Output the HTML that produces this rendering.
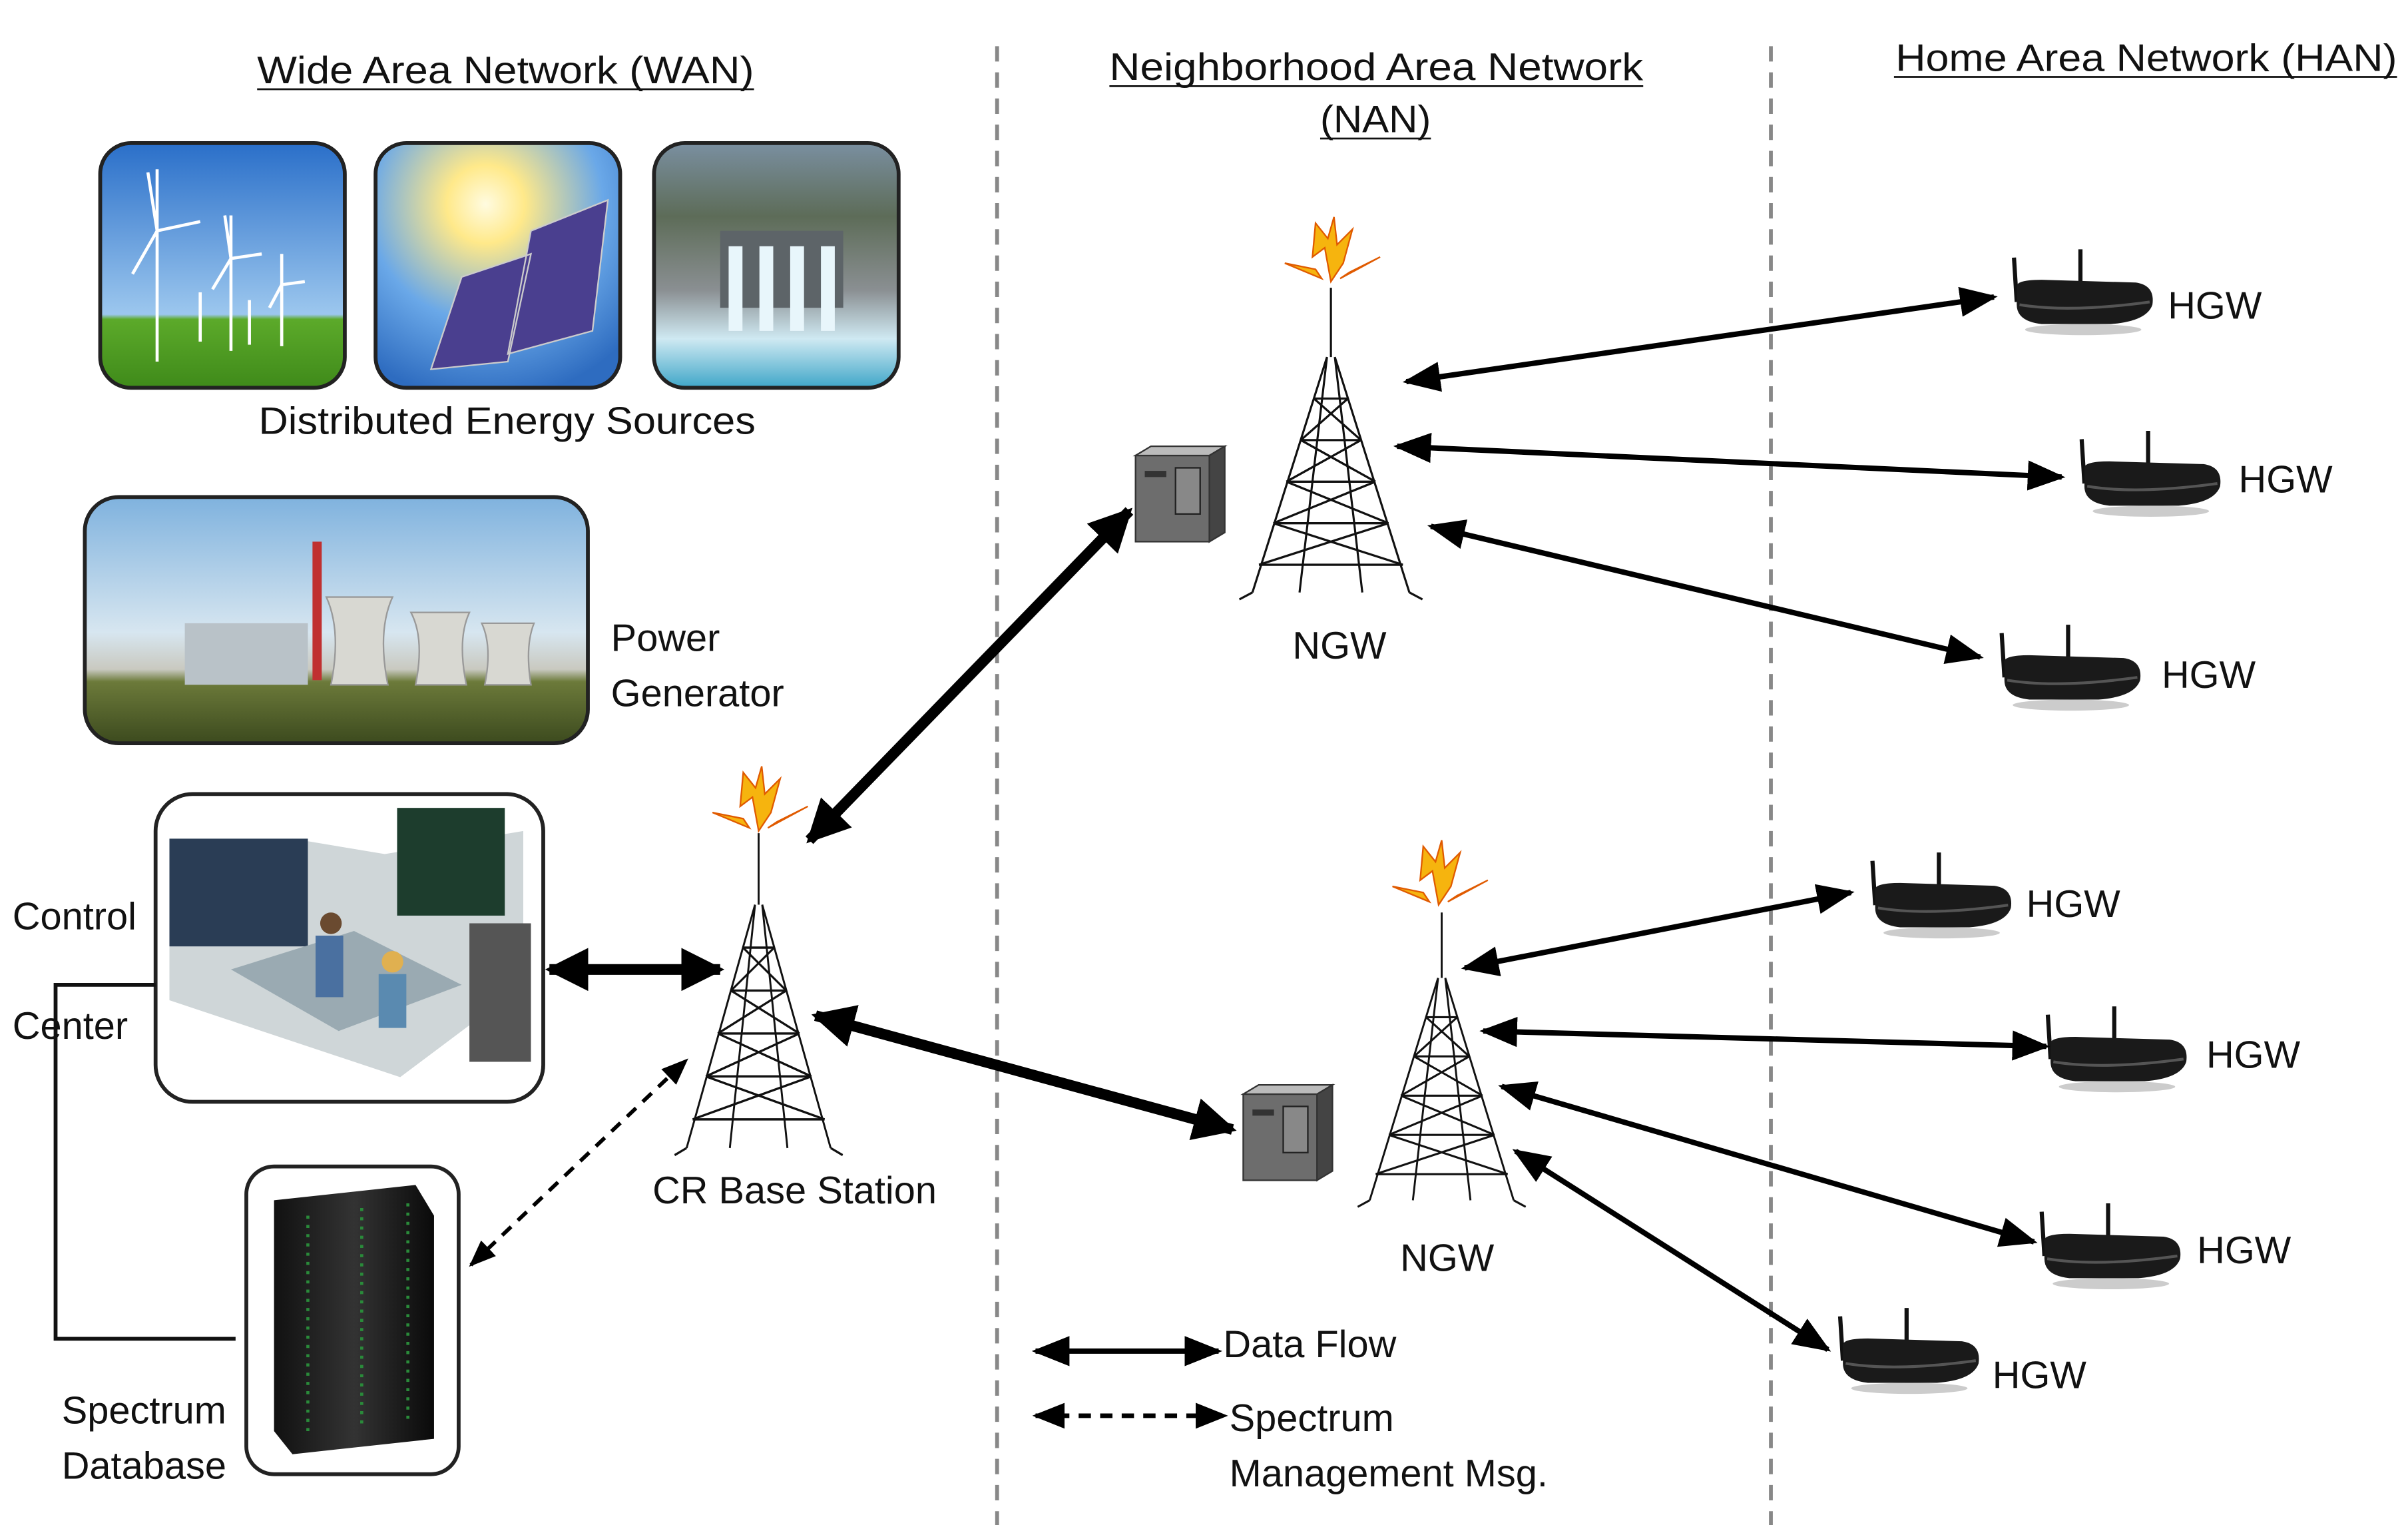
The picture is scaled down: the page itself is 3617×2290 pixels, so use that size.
<!DOCTYPE html>
<html><head><meta charset="utf-8"><style>
html,body{margin:0;padding:0;background:#fff;}
svg{display:block;}
text{font-family:"Liberation Sans",sans-serif;fill:#111;}
</style></head><body>
<svg width="3617" height="2290" viewBox="0 0 1565 991" xmlns="http://www.w3.org/2000/svg">
<defs>
<marker id="ah" viewBox="0 0 10 10" refX="9" refY="5" markerWidth="4" markerHeight="4" orient="auto-start-reverse"><path d="M0,0L10,5L0,10z" fill="#000"/></marker>
<marker id="ahs" viewBox="0 0 10 10" refX="9" refY="5" markerWidth="7" markerHeight="7" orient="auto-start-reverse"><path d="M0,1L10,5L0,9z" fill="#000"/></marker>
<linearGradient id="sky" x1="0" y1="0" x2="0" y2="1"><stop offset="0" stop-color="#2a6fc9"/><stop offset="0.7" stop-color="#9cc7ee"/><stop offset="0.72" stop-color="#5caa2a"/><stop offset="1" stop-color="#3f8a1a"/></linearGradient>
<radialGradient id="sun" cx="0.45" cy="0.25" r="0.8"><stop offset="0" stop-color="#fffbe0"/><stop offset="0.2" stop-color="#ffe98a"/><stop offset="0.6" stop-color="#6aa8e8"/><stop offset="1" stop-color="#2e6cc0"/></radialGradient>
<linearGradient id="dam" x1="0" y1="0" x2="0" y2="1"><stop offset="0" stop-color="#7a8fa0"/><stop offset="0.3" stop-color="#5d6c58"/><stop offset="0.6" stop-color="#8a8f92"/><stop offset="0.8" stop-color="#cfe9f2"/><stop offset="1" stop-color="#3fa6c8"/></linearGradient>
<linearGradient id="plant" x1="0" y1="0" x2="0" y2="1"><stop offset="0" stop-color="#7fb2de"/><stop offset="0.55" stop-color="#d7e6f0"/><stop offset="0.7" stop-color="#c9c9c0"/><stop offset="0.75" stop-color="#6c7a3a"/><stop offset="1" stop-color="#3c4a1e"/></linearGradient>
<linearGradient id="rack" x1="0" y1="0" x2="1" y2="0"><stop offset="0" stop-color="#111"/><stop offset="0.5" stop-color="#333"/><stop offset="1" stop-color="#0a0a0a"/></linearGradient>
<g id="tower" fill="none" stroke="#111" stroke-width="1.6">
<path d="M0,-20V30M-3,30L-60,200M3,30L60,200M-3,30L-24,200M3,30L24,200"/>
<path d="M-13,60H13M-23,90H23M-34,120H34M-44,150H44M-55,180H55"/>
<path d="M-13,60L23,90M13,60L-23,90M-23,90L34,120M23,90L-34,120M-34,120L44,150M34,120L-44,150M-44,150L55,180M44,150L-55,180"/>
<path d="M-60,200L-70,205M60,200L70,205"/>
</g>
<g id="bolt">
<path d="M0,20L-4,-2L-12,4L-10,-18L-2,-8L2,-22L4,-4L14,-14L8,8Z" fill="#f6b40e" stroke="#e05a00" stroke-width="1"/>
<path d="M-6,18L-30,8L-10,12Z M6,18L32,4L12,14Z" fill="#f6b40e" stroke="#e05a00" stroke-width="1"/>
</g>
<g id="router">
<path d="M-8,38 L-10,6" stroke="#111" stroke-width="3"/><path d="M38,36 L38,0" stroke="#111" stroke-width="3"/>
<path d="M-8,28 Q-10,22 10,22 L78,24 Q92,26 90,40 Q86,52 60,54 L10,54 Q-8,52 -8,40 Z" fill="#1a1a1a"/>
<path d="M-6,40 Q30,46 88,38" stroke="#555" stroke-width="2" fill="none"/>
<ellipse cx="40" cy="58" rx="42" ry="4" fill="#999" opacity="0.5"/>
</g>
<g id="server">
<rect x="0" y="6" width="48" height="56" fill="#6d6d6d" stroke="#333"/>
<path d="M0,6L10,0H58L48,6Z" fill="#bbb" stroke="#333"/>
<path d="M48,6L58,0V56L48,62Z" fill="#444" stroke="#333"/>
<rect x="26" y="14" width="16" height="30" fill="#888" stroke="#222"/>
<rect x="6" y="16" width="14" height="4" fill="#333"/>
</g>
</defs>

<!-- titles -->
<text x="167" y="54" font-size="25" textLength="323" lengthAdjust="spacingAndGlyphs">Wide Area Network (WAN)</text>
<line x1="167" y1="58" x2="490" y2="58" stroke="#111" stroke-width="1.2"/>
<text x="721" y="52" font-size="25" textLength="347" lengthAdjust="spacingAndGlyphs">Neighborhood Area Network</text>
<line x1="721" y1="56" x2="1068" y2="56" stroke="#111" stroke-width="1.2"/>
<text x="858" y="86" font-size="25" textLength="72" lengthAdjust="spacingAndGlyphs">(NAN)</text>
<line x1="858" y1="90" x2="930" y2="90" stroke="#111" stroke-width="1.2"/>
<text x="1232" y="46" font-size="25" textLength="326" lengthAdjust="spacingAndGlyphs">Home Area Network (HAN)</text>
<line x1="1231" y1="50" x2="1558" y2="50" stroke="#111" stroke-width="1.2"/>

<!-- dashed separators -->
<line x1="648" y1="30" x2="648" y2="991" stroke="#888" stroke-width="2.5" stroke-dasharray="10,7"/>
<line x1="1151" y1="30" x2="1151" y2="991" stroke="#888" stroke-width="2.5" stroke-dasharray="10,7"/>

<!-- energy images -->
<rect x="65" y="93" width="159" height="159" rx="20" fill="url(#sky)" stroke="#222" stroke-width="2.5"/>
<g stroke="#fff" stroke-width="2" fill="none">
<path d="M102,110V235M102,150L86,178M102,150L130,144M102,150L96,112"/>
<path d="M150,140V228M150,168L138,188M150,168L170,165M150,168L146,140"/>
<path d="M183,165V225M183,185L175,200M183,185L198,183"/>
<path d="M130,190V222M162,195V224"/>
</g>
<rect x="244" y="93" width="159" height="159" rx="20" fill="url(#sun)" stroke="#222" stroke-width="2.5"/>
<path d="M280,240L300,180L345,165L330,235Z M330,230L345,150L395,130L385,215Z" fill="#4a3f8f" stroke="#ccc" stroke-width="1"/>
<rect x="425" y="93" width="159" height="159" rx="20" fill="url(#dam)" stroke="#222" stroke-width="2.5"/>
<rect x="468" y="150" width="80" height="50" fill="#5d6468"/>
<path d="M478,160V215M498,160V215M518,160V215M538,160V215" stroke="#e8f6fb" stroke-width="9"/>
<text x="168" y="282" font-size="25" textLength="323" lengthAdjust="spacingAndGlyphs">Distributed Energy Sources</text>

<!-- power plant -->
<rect x="55" y="323" width="327" height="160" rx="22" fill="url(#plant)" stroke="#222" stroke-width="2.5"/>
<path d="M215,445Q222,410 212,388H255Q245,410 252,445Z M270,445Q276,415 267,398H305Q297,415 303,445Z M315,445Q320,420 313,405H347Q341,420 345,445Z" fill="#d8d8d2" stroke="#999"/>
<rect x="203" y="352" width="6" height="90" fill="#c03030"/>
<rect x="120" y="405" width="80" height="40" fill="#b9c2c8"/>
<text x="397" y="423" font-size="25">Power</text>
<text x="397" y="459" font-size="25">Generator</text>

<!-- control center -->
<rect x="101" y="516" width="252" height="200" rx="24" fill="#fff" stroke="#222" stroke-width="2.5"/>
<path d="M110,600L190,545L250,555L340,540L340,640L260,700L110,650Z" fill="#cfd6d8"/>
<rect x="110" y="545" width="90" height="70" fill="#2a3d55"/>
<rect x="258" y="525" width="70" height="70" fill="#1d3d2d"/>
<rect x="305" y="600" width="40" height="90" fill="#555"/>
<path d="M150,630L230,605L300,640L220,670Z" fill="#9aaab2"/>
<circle cx="215" cy="600" r="7" fill="#6a4a30"/><rect x="205" y="608" width="18" height="40" fill="#4a70a0"/>
<circle cx="255" cy="625" r="7" fill="#e0b050"/><rect x="246" y="633" width="18" height="35" fill="#5a8ab0"/>
<text x="8" y="604" font-size="25">Control</text>
<text x="8" y="675" font-size="25">Center</text>
<path d="M101,640H36V870H153" fill="none" stroke="#111" stroke-width="2.5"/>

<!-- spectrum database -->
<rect x="160" y="758" width="138" height="200" rx="18" fill="#fff" stroke="#222" stroke-width="2.5"/>
<path d="M178,780L270,770L282,790V935L190,945L178,930Z" fill="url(#rack)"/>
<path d="M200,790V930M235,785V928M265,782V925" stroke="#2a8a3a" stroke-width="2" stroke-dasharray="2,4"/>
<text x="40" y="925" font-size="25">Spectrum</text>
<text x="40" y="961" font-size="25">Database</text>

<!-- CR base station -->
<use href="#tower" transform="translate(493,560) scale(0.78,0.93)"/>
<use href="#bolt" transform="translate(493,520)"/>
<text x="424" y="782" font-size="25">CR Base Station</text>

<!-- NGW 1 -->
<use href="#tower" transform="translate(865,205) scale(0.85,0.9)"/>
<use href="#bolt" transform="translate(865,163)"/>
<use href="#server" transform="translate(738,290)"/>
<text x="840" y="428" font-size="25">NGW</text>

<!-- NGW 2 -->
<use href="#tower" transform="translate(937,610) scale(0.78,0.85)"/>
<use href="#bolt" transform="translate(935,568)"/>
<use href="#server" transform="translate(808,705)"/>
<text x="910" y="826" font-size="25">NGW</text>

<!-- routers -->
<use href="#router" transform="translate(1318,162) scale(0.9)"/><text x="1409" y="207" font-size="25">HGW</text>
<use href="#router" transform="translate(1362,280) scale(0.9)"/><text x="1455" y="320" font-size="25">HGW</text>
<use href="#router" transform="translate(1310,406) scale(0.9)"/><text x="1405" y="447" font-size="25">HGW</text>
<use href="#router" transform="translate(1226,554) scale(0.9)"/><text x="1317" y="596" font-size="25">HGW</text>
<use href="#router" transform="translate(1340,654) scale(0.9)"/><text x="1434" y="694" font-size="25">HGW</text>
<use href="#router" transform="translate(1336,782) scale(0.9)"/><text x="1428" y="821" font-size="25">HGW</text>
<use href="#router" transform="translate(1205,850) scale(0.9)"/><text x="1295" y="902" font-size="25">HGW</text>

<!-- arrows -->
<g stroke="#000" fill="none">
<line x1="357" y1="630" x2="468" y2="630" stroke-width="7" marker-start="url(#ah)" marker-end="url(#ah)"/>
<line x1="526" y1="546" x2="734" y2="332" stroke-width="7" marker-start="url(#ah)" marker-end="url(#ah)"/>
<line x1="530" y1="660" x2="801" y2="734" stroke-width="7" marker-start="url(#ah)" marker-end="url(#ah)"/>
<line x1="306" y1="822" x2="446" y2="689" stroke-width="2.5" stroke-dasharray="8,6" marker-start="url(#ahs)" marker-end="url(#ahs)"/>
<g stroke-width="3.5">
<line x1="914" y1="248" x2="1296" y2="193" marker-start="url(#ahs)" marker-end="url(#ahs)"/>
<line x1="908" y1="290" x2="1340" y2="310" marker-start="url(#ahs)" marker-end="url(#ahs)"/>
<line x1="930" y1="342" x2="1287" y2="427" marker-start="url(#ahs)" marker-end="url(#ahs)"/>
<line x1="952" y1="629" x2="1203" y2="580" marker-start="url(#ahs)" marker-end="url(#ahs)"/>
<line x1="964" y1="670" x2="1330" y2="680" marker-start="url(#ahs)" marker-end="url(#ahs)"/>
<line x1="976" y1="706" x2="1322" y2="807" marker-start="url(#ahs)" marker-end="url(#ahs)"/>
<line x1="985" y1="748" x2="1188" y2="877" marker-start="url(#ahs)" marker-end="url(#ahs)"/>
</g>
<line x1="673" y1="878" x2="792" y2="878" stroke-width="3.5" marker-start="url(#ahs)" marker-end="url(#ahs)"/>
<line x1="673" y1="920" x2="796" y2="920" stroke-width="3" stroke-dasharray="8,6" marker-start="url(#ahs)" marker-end="url(#ahs)"/>
</g>
<text x="795" y="882" font-size="25">Data Flow</text>
<text x="799" y="930" font-size="25">Spectrum</text>
<text x="799" y="966" font-size="25">Management Msg.</text>
</svg>
</body></html>
